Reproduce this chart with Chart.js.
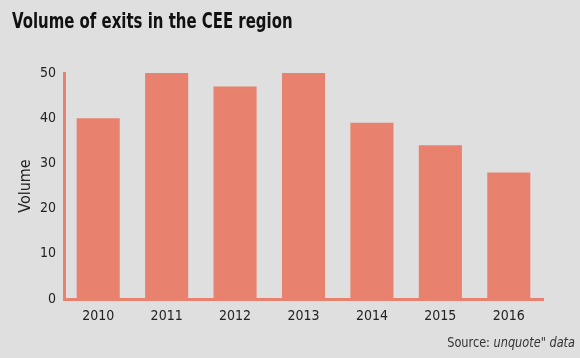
<!DOCTYPE html>
<html>
<head>
<meta charset="utf-8">
<script src="https://cdn.jsdelivr.net/npm/chart.js@4/dist/chart.umd.min.js"></script>
<style>
  html, body { margin: 0; padding: 0; background: #dfdfdf; }
  #wrap { position: relative; width: 580px; height: 358px; overflow: hidden; }
  #title {
    position: absolute; left: 12px; top: 8px;
    font-family: 'DejaVu Sans Condensed', 'Liberation Sans Narrow', sans-serif;
    font-weight: bold; font-size: 22px; color: #111;
    transform: scaleX(0.755); transform-origin: left top; white-space: nowrap;
  }
  #source {
    position: absolute; right: 5px; top: 334px;
    font-family: 'DejaVu Sans Condensed', 'Liberation Sans Narrow', sans-serif;
    font-size: 14px; color: #333;
    transform: scaleX(0.9); transform-origin: right top; white-space: nowrap;
  }
  #source i { font-style: italic; }
  canvas { position: absolute; left: 0; top: 0; }
</style>
</head>
<body>
<div id="wrap">
  <canvas id="chart" width="580" height="358"></canvas>
  <div id="title">Volume of exits in the CEE region</div>
  <div id="source">Source: <i>unquote" data</i></div>
</div>
<script>
  const years = ['2010', '2011', '2012', '2013', '2014', '2015', '2016'];
  const volumes = [40, 50, 47, 50, 39, 34, 28];
  const yTicks = [0, 10, 20, 30, 40, 50];

  const salmon = '#e8826f';
  const font = "'DejaVu Sans Condensed', 'Liberation Sans Narrow', sans-serif";

  new Chart(document.getElementById('chart'), {
    type: 'bar',
    data: {
      labels: years,
      datasets: [{
        data: volumes,
        backgroundColor: salmon,
        borderWidth: 0,
        categoryPercentage: 0.63,
        barPercentage: 1
      }]
    },
    options: {
      responsive: false,
      animation: false,
      layout: { padding: { top: 73, right: 37, bottom: 0, left: 0 } },
      plugins: { legend: { display: false }, tooltip: { enabled: false } },
      scales: {
        x: {
          grid: { display: false, drawTicks: false },
          border: { color: salmon, width: 3 },
          ticks: { color: '#222', font: { family: font, size: 14 }, padding: 9 },
          afterFit: (s) => { s.height = 59; }
        },
        y: {
          min: 0, max: 50,
          afterBuildTicks: (s) => { s.ticks = yTicks.map(v => ({ value: v })); },
          grid: { display: false, drawTicks: false },
          border: { color: salmon, width: 3 },
          ticks: { color: '#222', font: { family: font, size: 14 }, padding: 8 },
          title: {
            display: true, text: 'Volume', color: '#222',
            font: { family: font, size: 16 }, padding: { top: 16, bottom: 0 }
          },
          afterFit: (s) => { s.width = 64; }
        }
      }
    }
  });
</script>
</body>
</html>
